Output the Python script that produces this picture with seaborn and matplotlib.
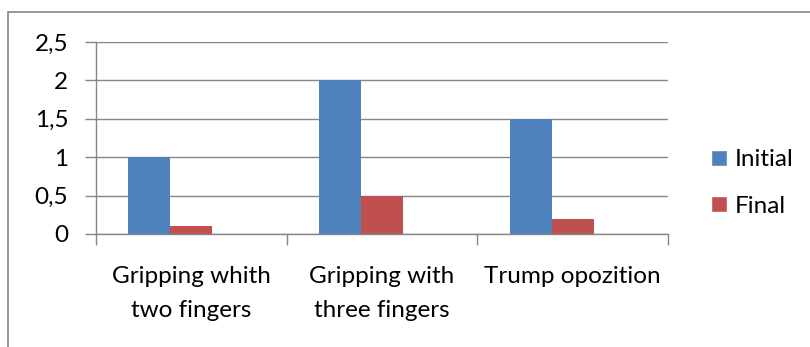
import pandas as pd
import seaborn as sns
import matplotlib.pyplot as plt
from matplotlib.patches import Rectangle, Patch
from matplotlib.ticker import FuncFormatter, FixedLocator

# data
categories = ["Gripping whith\ntwo fingers", "Gripping with\nthree fingers", "Trump opozition"]
initial = [1.0, 2.0, 1.5]
final = [0.1, 0.5, 0.2]
# Excel chart had an empty third series that keeps space in each group
empty = [0.0, 0.0, 0.0]

series_names = ["Initial", "Final", "_empty"]
colors = {"Initial": "#4F81BD", "Final": "#C0504D", "_empty": "#FFFFFF"}
grid_color = "#868686"
fs = 17.5

df = pd.DataFrame({
    "category": categories * 3,
    "value": initial + final + empty,
    "series": [s for s in series_names for _ in categories],
})

sns.set_theme(style="white")
plt.rcParams["font.family"] = ["Lato", "DejaVu Sans"]
plt.rcParams["text.color"] = "black"

fig = plt.figure(figsize=(8.1, 3.47), dpi=100)
ax = fig.add_axes([96 / 810, 1 - 234 / 347, 572 / 810, 192 / 347])

sns.barplot(data=df, x="category", y="value", hue="series", hue_order=series_names,
            palette=colors, width=0.66, saturation=1, linewidth=0, ax=ax,
            legend=False, errorbar=None)

ax.set_ylim(0, 2.5)
ax.set_xlim(-0.5, len(categories) - 0.5)
ax.set_yticks([0, 0.5, 1, 1.5, 2, 2.5])
ax.yaxis.set_major_formatter(FuncFormatter(lambda v, p: f"{v:g}".replace(".", ",")))
ax.grid(axis="y", color=grid_color, linewidth=1)
ax.set_axisbelow(True)

# category boundaries as major ticks, labels on minor ticks at the centres
ax.xaxis.set_major_locator(FixedLocator([i - 0.5 for i in range(len(categories) + 1)]))
ax.xaxis.set_minor_locator(FixedLocator(range(len(categories))))
ax.set_xticklabels([], minor=False)
ax.set_xticklabels(categories, minor=True)
ax.tick_params(axis="x", which="major", direction="out", length=8, width=1,
               color=grid_color, bottom=True)
ax.tick_params(axis="x", which="minor", length=0, pad=23, labelsize=fs, labelcolor="black")
ax.tick_params(axis="y", direction="out", length=8, width=1, color=grid_color,
               left=True, labelsize=fs, pad=12, labelcolor="black")
for lab in ax.get_xticklabels(minor=True):
    lab.set_linespacing(1.75)

ax.set_xlabel("")
ax.set_ylabel("")
for side in ["top", "right"]:
    ax.spines[side].set_visible(False)
for side in ["left", "bottom"]:
    ax.spines[side].set_color(grid_color)
    ax.spines[side].set_linewidth(1)

handles = [Patch(facecolor=colors["Initial"]), Patch(facecolor=colors["Final"])]
fig.legend(handles, ["Initial", "Final"], loc="center left",
           bbox_to_anchor=(689 / 810, 1 - 183 / 347), frameon=False, fontsize=fs,
           handlelength=0.65, handleheight=0.65, handletextpad=0.35, labelspacing=1.05,
           labelcolor="black")

# outer chart border (only top and left edges fall inside the image)
fig.add_artist(Rectangle((8 / 810, -0.2), 1.2, 1.2 - 12 / 347, transform=fig.transFigure,
                         fill=False, edgecolor=grid_color, linewidth=1.2, clip_on=False))

fig.savefig("out.png", dpi=100)
